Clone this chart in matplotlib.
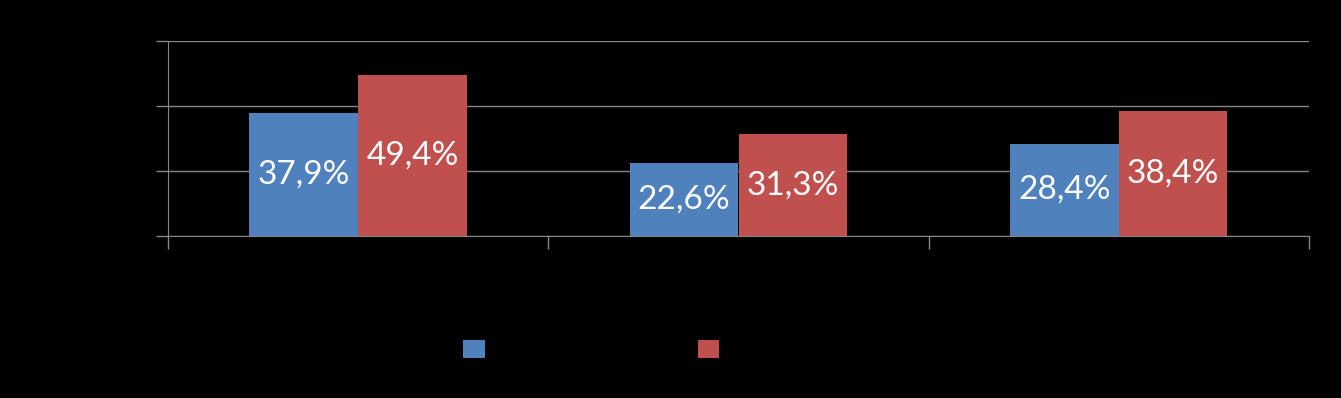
import matplotlib
matplotlib.use("Agg")
import matplotlib.pyplot as plt
import numpy as np

# === Data ===
categories = ["Categoria 1", "Categoria 2", "Categoria 3"]
series_names = ["Série 1", "Série 2"]
serie1 = [37.9, 22.6, 28.4]
serie2 = [49.4, 31.3, 38.4]

blue = "#4F81BD"
red = "#C0504D"
grid_col = "#868686"

plt.rcParams['font.family'] = ['Lato', 'DejaVu Sans']

fig = plt.figure(figsize=(13.41, 3.98), dpi=100, facecolor="black")
ax = fig.add_axes([168/1341, 1-236/398, (1309-168)/1341, (236-41)/398])
ax.set_facecolor("black")

x = np.arange(len(categories))
w = 1/3.5
b1 = ax.bar(x - w/2, serie1, w, color=blue, label=series_names[0], zorder=3)
b2 = ax.bar(x + w/2, serie2, w, color=red, label=series_names[1], zorder=3)

for bars, vals in [(b1, serie1), (b2, serie2)]:
    for rect, v in zip(bars, vals):
        ax.text(rect.get_x() + rect.get_width()/2, v/2,
                f"{v:.1f}%".replace(".", ","), color="white",
                ha="center", va="center", fontsize=24, zorder=4)

# === Axes ===
ax.set_xlim(-0.5, len(categories) - 0.5)
ax.set_ylim(0, 60)
ax.set_yticks([0, 20, 40, 60])
ax.set_yticklabels([f"{t}%" for t in [0, 20, 40, 60]], color="black")
ax.set_xticks(x)
ax.set_xticklabels(categories, color="black")
ax.set_xticks(np.arange(len(categories) + 1) - 0.5, minor=True)
ax.tick_params(axis="x", which="major", length=0)
ax.tick_params(axis="x", which="minor", length=9, color=grid_col, width=1)
ax.tick_params(axis="y", length=9, color=grid_col, width=1)
ax.grid(axis="y", color=grid_col, linewidth=1, zorder=0)
for s in ["top", "right"]:
    ax.spines[s].set_visible(False)
ax.spines["left"].set_color(grid_col)
ax.spines["bottom"].set_color(grid_col)

fig.legend(loc="center", bbox_to_anchor=(0.4687, 1-349/398), ncol=2,
           frameon=False, labelcolor="black", fontsize=14,
           handlelength=1.1, handleheight=1.1, columnspacing=7.1)

fig.savefig("out.png", dpi=100, facecolor="black")
